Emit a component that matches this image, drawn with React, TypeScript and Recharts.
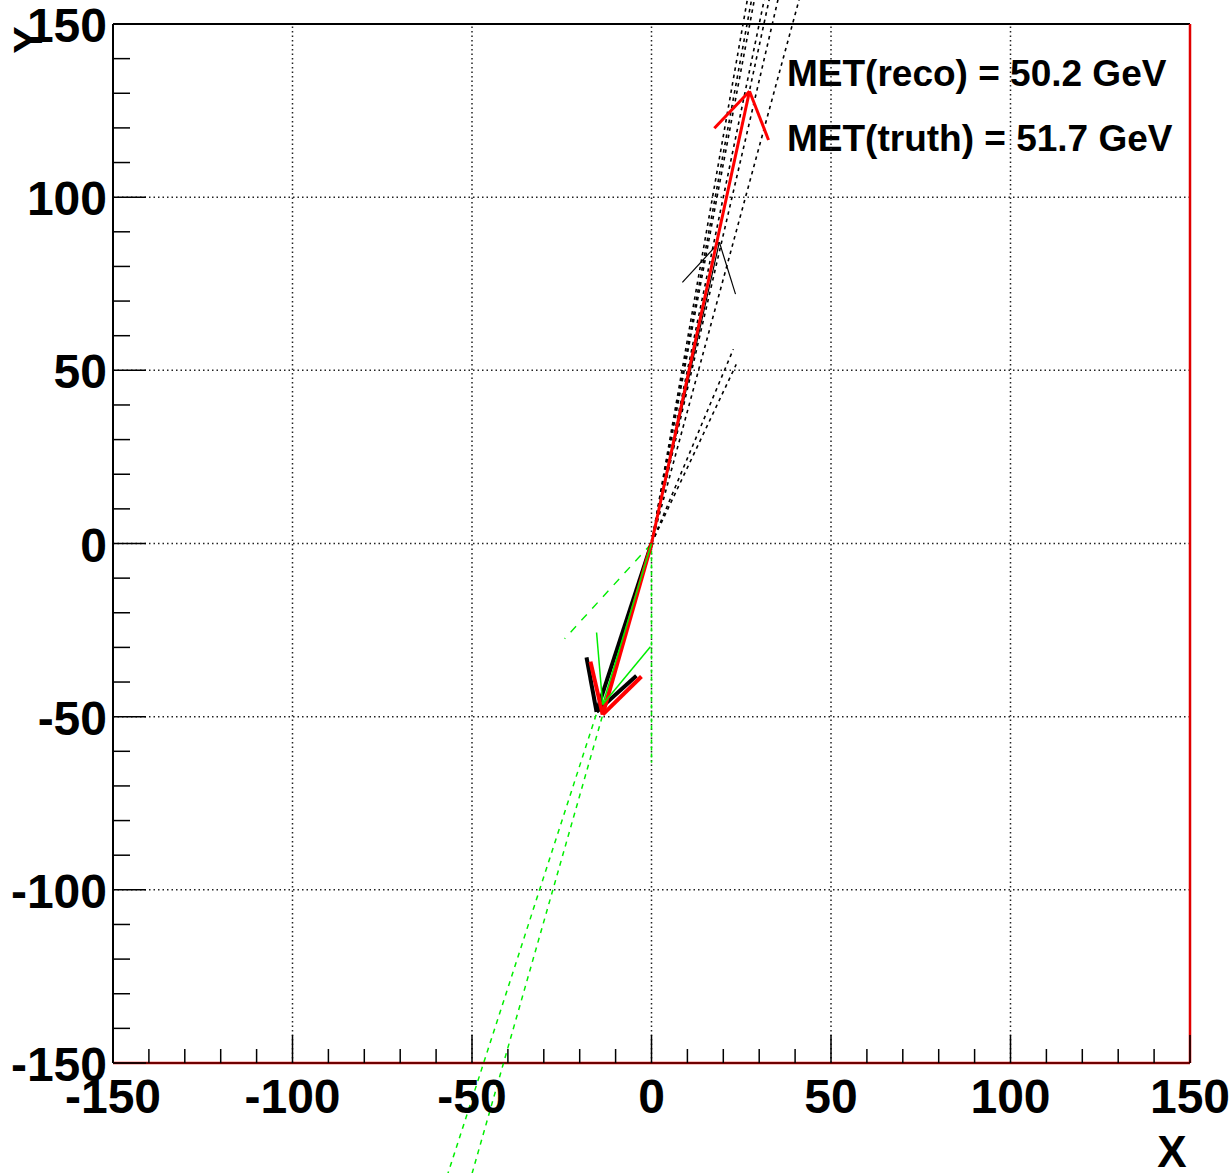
import React from 'react';
import { ScatterChart, XAxis, YAxis, ReferenceLine, Scatter, Customized } from 'recharts';

const W = 1230;
const H = 1173;
const FONT = '"Liberation Sans", Arial, Helvetica, sans-serif';

// axis ticks (major every 50 with labels, minor every 10)
const axisTicks = [-150, -140, -130, -120, -110, -100, -90, -80, -70, -60, -50, -40, -30, -20, -10, 0,
  10, 20, 30, 40, 50, 60, 70, 80, 90, 100, 110, 120, 130, 140, 150];
const majorTicks = [-150, -100, -50, 0, 50, 100, 150];
const gridValues = [-100, -50, 0, 50, 100];

// arrows: [origin, tip, head arm 1, head arm 2]
const redUpArrow = [[0, 0], [27.3, 130.6], [17.5, 119.9], [32.6, 116.5]];
const blackUpArrow = [[0, 0], [18.9, 87.0], [8.6, 75.4], [23.4, 72.0]];
const blackDownArrow = [[0, 0], [-15.3, -48.6], [-18.1, -32.9], [-4.2, -38.2]];
const redDownArrow = [[0, 0], [-13.6, -49.4], [-17.0, -34.1], [-2.8, -38.4]];
const greenDownArrow = [[0, 0], [-13.6, -46.5], [-15.3, -25.7], [-0.3, -29.8]];

// dashed track lines starting at the origin: end points
const blackTrackEnds = [[27.2, 160], [28.4, 160], [29.2, 160], [32.0, 160], [33.4, 160], [35.9, 160], [41.9, 160], [22.8, 56.1], [23.6, 51.7]];
const greenTrackEnds = [[-58.2, -186.7], [-51.3, -186.7]];
const greenLongDashEnd = [-24.2, -27.5];
const greenVerticalEnd = [0, -63.3];

const labels = ['MET(reco) = 50.2 GeV', 'MET(truth) = 51.7 GeV'];

const originPoint = [{ x: 0, y: 0 }];

const pt = (p: number[]) => ({ x: p[0], y: p[1] });

const XTick = (props: any) => {
  const { x, y, payload } = props;
  const v = payload.value;
  const major = majorTicks.includes(v);
  return (
    <g>
      <line x1={x} x2={x} y1={y} y2={y - (major ? 28 : 14)} stroke="#000" strokeWidth={1.5} />
      {major && (
        <text x={x} y={y + 50} textAnchor="middle" fontSize={48} fontWeight="bold" fontFamily={FONT} fill="#000">
          {v}
        </text>
      )}
    </g>
  );
};

const YTick = (props: any) => {
  const { x, y, payload } = props;
  const v = payload.value;
  const major = majorTicks.includes(v);
  return (
    <g>
      <line x1={x} x2={x + (major ? 33 : 17)} y1={y} y2={y} stroke="#000" strokeWidth={1.5} />
      {major && (
        <text x={x - 6} y={y + 18} textAnchor="end" fontSize={48} fontWeight="bold" fontFamily={FONT} fill="#000">
          {v}
        </text>
      )}
    </g>
  );
};

const Overlay = () => (
  <g>
    <text x={787} y={86} fontSize={37} fontWeight="bold" fontFamily={FONT} fill="#000">{labels[0]}</text>
    <text x={787} y={151} fontSize={37} fontWeight="bold" fontFamily={FONT} fill="#000">{labels[1]}</text>
    <text x={1172} y={1167} textAnchor="middle" fontSize={44} fontWeight="bold" fontFamily={FONT} fill="#000">X</text>
    <text x={42} y={40} textAnchor="middle" fontSize={41} fontWeight="bold" fontFamily={FONT} fill="#000"
      transform="rotate(-90 42 40)">Y</text>
  </g>
);

const arrowLines = (arrow: number[][], color: string, width: number, key: string) => [
  <ReferenceLine key={key + 's'} segment={[pt(arrow[0]), pt(arrow[1])]} stroke={color} strokeWidth={width} ifOverflow="visible" />,
  <ReferenceLine key={key + 'a'} segment={[pt(arrow[1]), pt(arrow[2])]} stroke={color} strokeWidth={width} ifOverflow="visible" />,
  <ReferenceLine key={key + 'b'} segment={[pt(arrow[1]), pt(arrow[3])]} stroke={color} strokeWidth={width} ifOverflow="visible" />,
];

export default function App() {
  return (
    <div style={{ position: 'absolute', left: 0, top: 0, width: W, height: H, background: '#fff' }}>
      <ScatterChart width={W} height={H} margin={{ top: 24, right: 40, bottom: 0, left: 0 }}>
        <XAxis
          type="number"
          dataKey="x"
          domain={[-150, 150]}
          allowDataOverflow
          ticks={axisTicks}
          interval={0}
          height={110}
          tickLine={false}
          tickSize={0}
          tickMargin={0}
          tick={<XTick />}
          axisLine={{ stroke: '#000', strokeWidth: 1 }}
        />
        <YAxis
          type="number"
          dataKey="y"
          domain={[-150, 150]}
          allowDataOverflow
          ticks={axisTicks}
          interval={0}
          width={113}
          tickLine={false}
          tickSize={0}
          tickMargin={0}
          tick={<YTick />}
          axisLine={{ stroke: '#000', strokeWidth: 2 }}
        />
        {gridValues.map((v) => (
          <ReferenceLine key={'gx' + v} x={v} stroke="#222" strokeWidth={1.5} strokeDasharray="1.5 3" ifOverflow="visible" />
        ))}
        {gridValues.map((v) => (
          <ReferenceLine key={'gy' + v} y={v} stroke="#222" strokeWidth={1.5} strokeDasharray="1.5 3" ifOverflow="visible" />
        ))}
        <ReferenceLine y={150} stroke="#000" strokeWidth={2} ifOverflow="visible" />
        <ReferenceLine x={150} stroke="#e00000" strokeWidth={2.5} ifOverflow="visible" />
        <ReferenceLine y={-150} stroke="#e00000" strokeWidth={2.5} ifOverflow="visible" />

        {blackTrackEnds.map((e, i) => (
          <ReferenceLine key={'bt' + i} segment={[{ x: 0, y: 0 }, pt(e)]} stroke="#000" strokeWidth={1.6} strokeDasharray="3.5 4" ifOverflow="visible" />
        ))}
        {greenTrackEnds.map((e, i) => (
          <ReferenceLine key={'gt' + i} segment={[{ x: 0, y: 0 }, pt(e)]} stroke="#00ee00" strokeWidth={1.5} strokeDasharray="5 5" ifOverflow="visible" />
        ))}
        <ReferenceLine segment={[{ x: 0, y: 0 }, pt(greenLongDashEnd)]} stroke="#00ee00" strokeWidth={1.4} strokeDasharray="8 8" ifOverflow="visible" />
        <ReferenceLine segment={[{ x: 0, y: 0 }, pt(greenVerticalEnd)]} stroke="#00ee00" strokeWidth={1.5} strokeDasharray="4 3" ifOverflow="visible" />

        {arrowLines(blackUpArrow, '#000', 1.2, 'bu')}
        {arrowLines(redUpArrow, '#ff0000', 3, 'ru')}
        {arrowLines(blackDownArrow, '#000', 4, 'bd')}
        {arrowLines(redDownArrow, '#ff0000', 4, 'rd')}
        {arrowLines(greenDownArrow, '#00ee00', 1.5, 'gd')}

        <Scatter data={originPoint} isAnimationActive={false} shape={() => <g />} />
        <Customized component={Overlay} />
      </ScatterChart>
    </div>
  );
}
